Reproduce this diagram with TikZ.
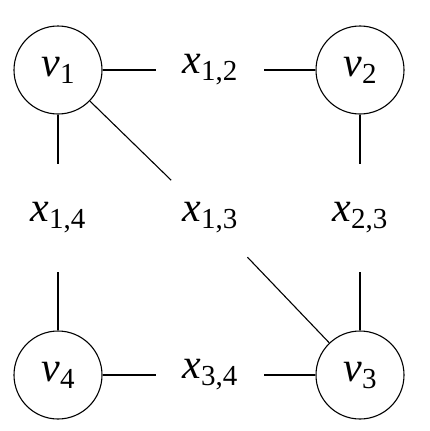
\documentclass[tikz,border=0pt]{standalone}
\usepackage{fontspec}
\setmainfont{Liberation Serif}
\newcommand{\vx}[2]{\textit{#1}\raisebox{-7pt}{\fontsize{29}{34}\selectfont #2}}
\begin{document}
\begin{tikzpicture}[x=1pt,y=-1pt,
  vert/.style={circle,draw,line width=1.1pt,minimum size=88pt,inner sep=0pt,font=\fontsize{42}{50}\selectfont},
  lab/.style={circle,minimum size=108pt,inner sep=0pt,font=\fontsize{42}{50}\selectfont},
  edge/.style={line width=1.1pt}]
\useasboundingbox (0,0) rectangle (429,431);
\node[vert] (v1) at (58,70) {\vx{v}{1}};
\node[vert] (v2) at (360,70) {\vx{v}{2}};
\node[vert] (v3) at (360,375) {\vx{v}{3}};
\node[vert] (v4) at (58,375) {\vx{v}{4}};
\node[lab] (x12) at (210,70) {\vx{x}{1,2}};
\node[lab] (x14) at (58,218) {\vx{x}{1,4}};
\node[lab] (x13) at (210,218) {\vx{x}{1,3}};
\node[lab] (x23) at (360,218) {\vx{x}{2,3}};
\node[lab] (x34) at (210,375) {\vx{x}{3,4}};
\draw[edge] (v1) -- (x12);
\draw[edge] (x12) -- (v2);
\draw[edge] (v1) -- (x14);
\draw[edge] (x14) -- (v4);
\draw[edge] (v1) -- (x13);
\draw[edge] (x13) -- (v3);
\draw[edge] (v2) -- (x23);
\draw[edge] (x23) -- (v3);
\draw[edge] (v4) -- (x34);
\draw[edge] (x34) -- (v3);
\end{tikzpicture}
\end{document}
